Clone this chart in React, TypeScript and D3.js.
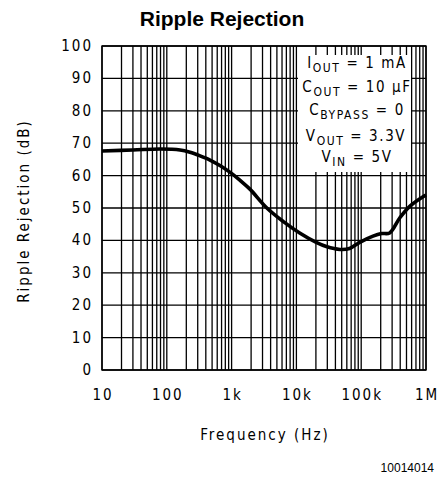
import * as d3 from "d3";

const freqs = [10, 30, 80, 160, 228, 325, 464, 660, 950, 1340, 1900, 3500, 6300, 11400, 20600, 29000, 47000, 66000, 95000, 152000, 205000, 275000, 395000, 566000, 900000, 1000000];
const rejection = [67.6, 67.9, 68.2, 67.9, 67.2, 66.1, 64.8, 63.1, 61.0, 58.6, 55.9, 50.0, 45.8, 42.2, 39.3, 38.1, 37.2, 37.5, 39.4, 41.3, 42.1, 42.3, 47.0, 50.6, 53.5, 54.0];

const decadeTicks = [10, 100, 1000, 10000, 100000, 1000000];
const decadeLabels = ["10", "100", "1k", "10k", "100k", "1M"];
const yTicks = [0, 10, 20, 30, 40, 50, 60, 70, 80, 90, 100];

const W = 443;
const H = 477;
const left = 102, right = 426, top = 46, bottom = 370;
const font = "'Liberation Sans Narrow', 'DejaVu Sans Condensed', Arial, sans-serif";

export default function App() {
  const x = d3.scaleLog().domain([10, 1e6]).range([left, right]);
  const y = d3.scaleLinear().domain([0, 100]).range([bottom, top]);

  const minor: number[] = [];
  for (let d = 10; d < 1e6; d *= 10) for (let k = 2; k <= 9; k++) minor.push(d * k);

  const line = d3.line<number>()
    .x((_, i) => x(freqs[i]))
    .y((d) => y(d))
    .curve(d3.curveCatmullRom.alpha(0.5));

  return (
    <div style={{ position: "absolute", left: 0, top: 0, background: "#fff" }}>
      <svg width={W} height={H} style={{ display: "block" }}>
        <rect width={W} height={H} fill="#fff" />
        <text x={222} y={26} textAnchor="middle" fontFamily="Arial, 'Liberation Sans', sans-serif" fontWeight="bold" fontSize={21}>
          Ripple Rejection
        </text>

        {/* grid */}
        <g stroke="#000" strokeWidth={1.3}>
          {minor.concat(decadeTicks).map((f) => (
            <line key={"v" + f} x1={x(f)} x2={x(f)} y1={top} y2={bottom} />
          ))}
          {yTicks.map((t) => (
            <line key={"h" + t} x1={left} x2={right} y1={y(t)} y2={y(t)} />
          ))}
        </g>

        {/* legend box */}
        <rect x={298} y={55} width={113} height={117} fill="#fff" />
        <g fontFamily={font} fontSize={15} textAnchor="middle" letterSpacing={1.6}>
          <text x={357} y={68}>I<tspan fontSize={12} dy={4}>OUT</tspan><tspan dy={-4}> = 1 mA</tspan></text>
          <text x={357} y={92}>C<tspan fontSize={12} dy={4}>OUT</tspan><tspan dy={-4}> = 10 μF</tspan></text>
          <text x={357} y={115}>C<tspan fontSize={12} dy={4}>BYPASS</tspan><tspan dy={-4}> = 0</tspan></text>
          <text x={356} y={141}>V<tspan fontSize={12} dy={4}>OUT</tspan><tspan dy={-4}> = 3.3V</tspan></text>
          <text x={357} y={162}>V<tspan fontSize={12} dy={4}>IN</tspan><tspan dy={-4}> = 5V</tspan></text>
        </g>

        <rect x={left} y={top} width={right - left} height={bottom - top} fill="none" stroke="#000" strokeWidth={1.4} />

        <path d={line(rejection) || ""} fill="none" stroke="#000" strokeWidth={3.6} strokeLinejoin="round" />

        <g fontFamily={font} fontSize={15} letterSpacing={2}>
          {yTicks.map((t) => (
            <text key={t} x={93} y={y(t) + 5} textAnchor="end">{t}</text>
          ))}
          {decadeTicks.map((f, i) => (
            <text key={f} x={x(f) + 1} y={400} textAnchor="middle">{decadeLabels[i]}</text>
          ))}
          <text x={265} y={440} textAnchor="middle">Frequency (Hz)</text>
          <text transform={`translate(29,211) rotate(-90)`} textAnchor="middle">Ripple Rejection (dB)</text>
        </g>
        <text x={434} y={472} textAnchor="end" fontFamily="Arial, 'Liberation Sans', sans-serif" fontSize={12}>10014014</text>
      </svg>
    </div>
  );
}
